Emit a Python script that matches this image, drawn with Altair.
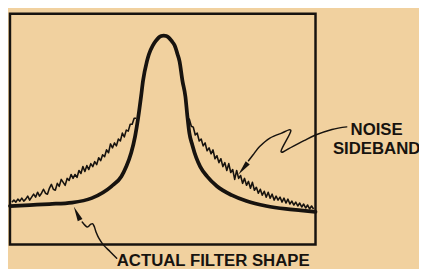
import altair as alt
import pandas as pd

INK = "#17130f"
PAPER = "#F1D19F"

# Actual filter shape (frequency offset, level)
filter_x = [10, 30, 50, 73, 93, 113, 123, 128, 133, 137, 140, 143, 145, 149, 151, 155, 158, 161, 163.5, 166,
            168.5, 171, 174, 177, 180, 182, 185, 188, 190, 192, 195, 199, 203, 210, 220, 235, 250, 270, 290, 305, 320]
filter_level = [39, 40, 41, 42.5, 47, 59, 69, 79, 93, 110, 128, 150, 166, 186, 193, 202, 206.5, 210, 211.5, 212,
                211.5, 210, 206.5, 202, 193, 186, 166, 150, 130, 113, 101, 88, 79, 69, 59, 50, 44, 39, 36, 34.5, 33]

# Noise sideband, lower side
noise_left_x = list(range(12, 139, 2))
noise_left_level = [43, 45, 43, 46, 44, 47, 44, 46, 49, 45, 48, 51, 48, 53, 49, 52, 56, 52, 51, 57,
                    61, 56, 55, 62, 59, 66, 63, 60, 67, 65, 71, 67, 71, 68, 75, 72, 79, 74, 80, 76,
                    82, 79, 84, 81, 88, 85, 91, 89, 96, 93, 102, 98, 103, 100, 107, 105, 113, 109, 116, 115,
                    122, 122, 128, 128]

# Noise sideband, upper side
noise_right_x = list(range(190, 319, 2))
noise_right_level = [129, 127, 120, 119, 111, 113, 105, 107, 100, 103, 95, 98, 92, 96, 87, 90, 83, 87, 79, 83,
                     75, 82, 73, 76, 66, 75, 67, 70, 62, 67, 60, 64, 57, 63, 55, 58, 52, 56, 50, 54,
                     48, 53, 47, 51, 45, 49, 45, 48, 43, 47, 42, 46, 41, 44, 40, 43, 39, 42, 38, 41,
                     37, 40, 36, 39, 36]

# Annotation leader lines
arrow_filter_x = [83.3, 88.3, 91.7, 94, 95.7, 97.3, 100, 105, 111.7, 118.3]
arrow_filter_y = [22.7, 17.7, 20.3, 21, 17.7, 12.7, 6.7, -0.7, -7.3, -14]
arrow_noise_x = [351.7, 336.7, 320, 308.3, 296.7, 285, 295, 285, 273.3, 263.3, 256.7, 252]
arrow_noise_y = [119.3, 116.7, 111, 105.3, 99.3, 94.3, 115.3, 112.7, 107.7, 99.3, 91, 85]

# Arrowheads
head_x = [78, 246.5]
head_y = [31.4, 76.9]
head_angle = [335, 219]

# Labels
label_text = ["NOISE", "SIDEBAND", "ACTUAL FILTER SHAPE"]
label_x = [382, 382, 118.3]
label_y = [111, 92, -22]
label_align = ["center", "center", "left"]

xs = alt.Scale(domain=[10, 320], nice=False, zero=False)
ys = alt.Scale(domain=[0, 234], nice=False, zero=False)

def X(f="x"):
    return alt.X(f"{f}:Q", scale=xs, axis=None)

def Y(f="y"):
    return alt.Y(f"{f}:Q", scale=ys, axis=None)

filt = pd.DataFrame({"x": filter_x, "y": filter_level, "i": range(len(filter_x))})
noise = pd.concat([
    pd.DataFrame({"x": noise_left_x, "y": noise_left_level, "s": "L", "i": range(len(noise_left_x))}),
    pd.DataFrame({"x": noise_right_x, "y": noise_right_level, "s": "R", "i": range(len(noise_right_x))}),
])
arrows = pd.concat([
    pd.DataFrame({"x": arrow_filter_x, "y": arrow_filter_y, "a": "F", "i": range(len(arrow_filter_x))}),
    pd.DataFrame({"x": arrow_noise_x, "y": arrow_noise_y, "a": "N", "i": range(len(arrow_noise_x))}),
])
heads = pd.DataFrame({"x": head_x, "y": head_y, "angle": head_angle})
labels = pd.DataFrame({"t": label_text, "x": label_x, "y": label_y, "al": label_align})

filter_layer = alt.Chart(filt).mark_line(
    color=INK, strokeWidth=3.8, interpolate="monotone", strokeCap="round", strokeJoin="round", clip=False
).encode(x=X(), y=Y(), order="i:Q")

noise_layer = alt.Chart(noise).mark_line(
    color=INK, strokeWidth=1.6, strokeJoin="round", clip=False
).encode(x=X(), y=Y(), detail="s:N", order="i:Q")

arrow_layer = alt.Chart(arrows).mark_line(
    color=INK, strokeWidth=1.5, interpolate="cardinal", strokeCap="round", clip=False
).encode(x=X(), y=Y(), detail="a:N", order="i:Q")

head_layer = alt.Chart(heads).mark_point(
    shape="M0,-1L0.35,1L-0.35,1Z", filled=True, color=INK, opacity=1, size=225, clip=False
).encode(x=X(), y=Y(), angle=alt.Angle("angle:Q", scale=None))

label_center = alt.Chart(labels[labels.al == "center"]).mark_text(
    font="Liberation Sans", fontWeight="bold", fontSize=17, color=INK, align="center", baseline="alphabetic", clip=False
).encode(x=X(), y=Y(), text="t:N")

label_left = alt.Chart(labels[labels.al == "left"]).mark_text(
    font="Liberation Sans", fontWeight="bold", fontSize=17, color=INK, align="left", baseline="alphabetic", clip=False
).encode(x=X(), y=Y(), text="t:N")

chart = alt.layer(
    filter_layer, noise_layer, arrow_layer, head_layer, label_center, label_left
).properties(
    width=310, height=234,
    autosize=alt.AutoSizeParams(type="none"),
    padding={"left": 2, "top": 4, "right": 105, "bottom": 23},
    background=PAPER,
).configure_view(stroke=INK, strokeWidth=2.5, fill=PAPER)

chart.save("out.html", embed_options={"renderer": "svg", "actions": False})
